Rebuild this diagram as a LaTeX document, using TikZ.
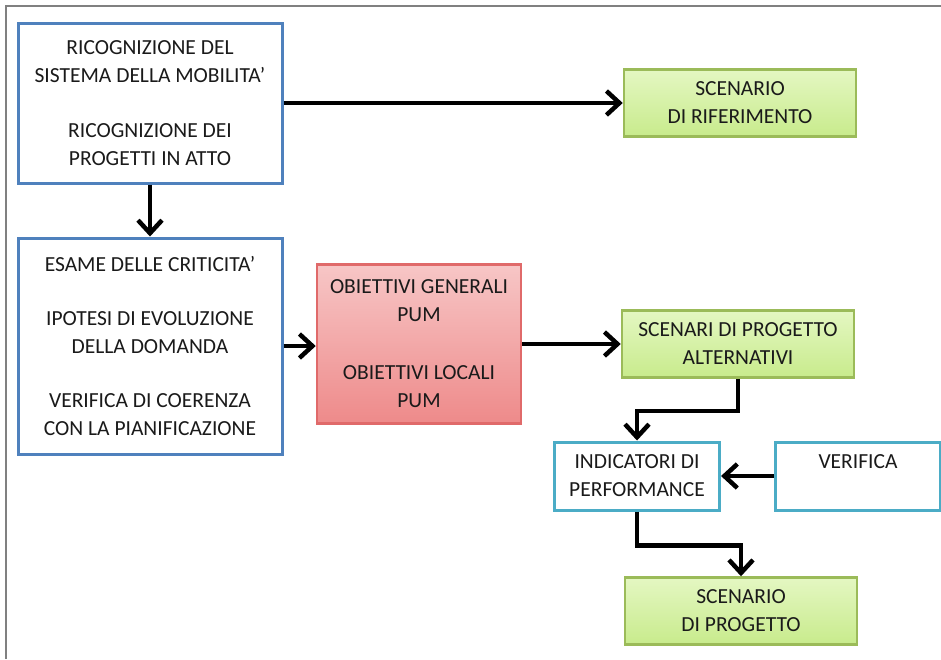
\documentclass[tikz,border=0pt]{standalone}
\usepackage{fontspec}
\setmainfont{Carlito}
\usetikzlibrary{arrows.meta}
\definecolor{boxblue}{HTML}{4F81BD}
\definecolor{boxteal}{HTML}{4BACC6}
\definecolor{boxgreen}{HTML}{9BBB59}
\definecolor{greentop}{HTML}{E4F7C2}
\definecolor{greenbot}{HTML}{C8EB8C}
\definecolor{boxred}{HTML}{E06A6A}
\definecolor{redtop}{HTML}{F7C6C6}
\definecolor{redbot}{HTML}{EE8A8A}
\definecolor{txtgray}{HTML}{1A1A1A}
\begin{document}
\begin{tikzpicture}[x=1pt,y=-1pt,>={Straight Barb[length=13pt,width=24pt]},
    every node/.style={font=\fontsize{21.5}{28}\selectfont,text=txtgray,align=center,inner sep=0pt},
    bluebox/.style={draw=boxblue,line width=3pt,fill=white,minimum width=264pt},
    tealbox/.style={draw=boxteal,line width=3pt,fill=white,minimum width=165pt,minimum height=68pt},
    greenbox/.style={draw=boxgreen,line width=2.5pt,top color=greentop,bottom color=greenbot,minimum width=232pt,minimum height=67pt},
    redbox/.style={draw=boxred,line width=2.5pt,top color=redtop,bottom color=redbot,minimum width=204pt,minimum height=159pt},
    flow/.style={->,line width=4.5pt}]
    \useasboundingbox (0,0) rectangle (941,659);

    % frame
    \draw[gray,line width=2pt] (6,659) -- (6,6) -- (941,6);

    % left column
    \node[bluebox,minimum height=160pt] (ricog) at (150,103)
    {RICOGNIZIONE DEL\\SISTEMA DELLA MOBILITA'\\[27pt]RICOGNIZIONE DEI\\PROGETTI IN ATTO};
    \node[bluebox,minimum height=216pt] (esame) at (150,346)
    {ESAME DELLE CRITICITA'\\[26pt]IPOTESI DI EVOLUZIONE\\DELLA DOMANDA\\[26pt]VERIFICA DI COERENZA\\CON LA PIANIFICAZIONE};

    \node[redbox] (obiet) at (419,344)
    {OBIETTIVI GENERALI\\PUM\\[30pt]OBIETTIVI LOCALI\\PUM};

    % right column
    \node[greenbox] (rifer) at (740,103) {SCENARIO\\DI RIFERIMENTO};
    \node[greenbox] (altern) at (738,344) {SCENARI DI PROGETTO\\ALTERNATIVI};
    \node[tealbox] (indic) at (637,476) {INDICATORI DI\\PERFORMANCE};
    \node[tealbox] (verif) at (858,476) {VERIFICA\\\phantom{X}};
    \node[greenbox] (progetto) at (741,611) {SCENARIO\\DI PROGETTO};

    \draw[flow] (ricog.east) -- (ricog.east -| rifer.west);
    \draw[flow] (ricog.south) -- (esame.north);
    \draw[flow] (esame.east) -- (esame.east -| obiet.west);
    \draw[flow] (obiet.east) -- (obiet.east -| altern.west);
    \draw[flow] (altern.south) -- ++(0,32) -| (indic.north);
    \draw[flow] (verif.west) -- (indic.east);
    \draw[flow] (indic.south) -- ++(0,34) -| (progetto.north);
\end{tikzpicture}
\end{document}
